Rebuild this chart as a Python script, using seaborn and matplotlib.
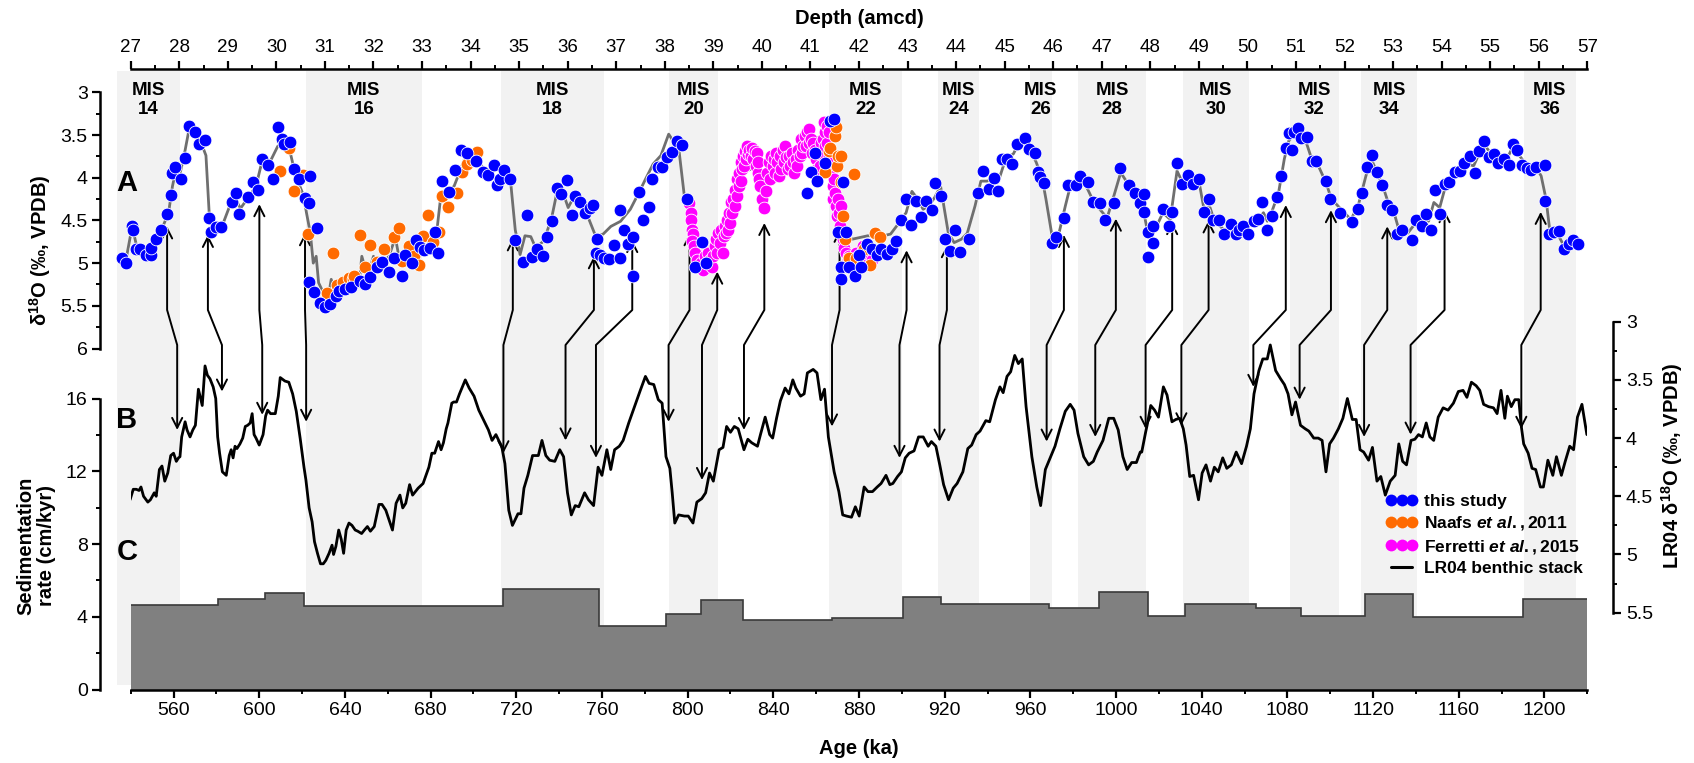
import numpy as np
import pandas as pd
import matplotlib
matplotlib.use("Agg")
import matplotlib.pyplot as plt
import seaborn as sns
from matplotlib.ticker import MultipleLocator, FixedLocator, FuncFormatter
from matplotlib.patches import FancyArrowPatch
from matplotlib.path import Path
from matplotlib.lines import Line2D

# ---------------- data ----------------
# (A) benthic d18O of this study, plotted against depth (amcd)
blue_depth = [26.82, 26.90, 27.03, 27.04, 27.10, 27.20, 27.31, 27.42, 27.42, 27.53, 27.62, 27.74, 27.84, 27.86, 27.92,
              28.04, 28.11, 28.21, 28.33, 28.41, 28.53, 28.62, 28.66, 28.75, 28.87, 29.08, 29.16, 29.24, 29.42, 29.51,
              29.62, 29.71, 29.83, 29.93, 30.04, 30.11, 30.15, 30.28, 30.37, 30.46, 30.60, 30.68, 30.70, 30.83, 30.68,
              30.78, 30.90, 31.01, 31.11, 31.22, 31.30, 31.41, 31.53, 31.72, 31.83, 31.92, 32.08, 32.18, 32.32, 32.42,
              32.58, 32.65, 32.79, 32.87, 32.95, 33.05, 33.16, 33.26, 33.32, 33.42, 33.55, 33.67, 33.81, 33.92, 34.11,
              34.25, 34.36, 34.48, 34.55, 34.60, 34.68, 34.81, 34.92, 35.07, 35.17, 35.27, 35.37, 35.49, 35.57, 35.68,
              35.79, 35.87, 35.98, 36.08, 36.16, 36.26, 36.35, 36.45, 36.52, 36.58, 36.61,
              36.66, 36.75, 36.85, 36.95, 37.07, 37.07, 37.15, 37.25, 37.35, 37.35, 37.46, 37.56, 37.67, 37.74, 37.86,
              37.94, 38.05, 38.15, 38.26, 38.35, 38.45, 38.63, 38.76, 38.85, 40.92, 41.02, 41.10, 41.13, 41.29, 41.40,
              41.48, 41.56, 41.63, 41.63, 41.67, 41.74, 41.80, 41.92, 42.01, 42.05, 42.17, 42.27, 42.37, 42.46, 42.57,
              42.68, 42.76, 42.87, 42.96, 43.08, 43.17, 43.28, 43.38, 43.50, 43.57, 43.69, 43.77, 43.87, 43.97, 44.07,
              44.27, 44.45, 44.56, 44.67, 44.78, 44.86, 44.94, 45.04, 45.16, 45.26, 45.42, 45.51, 45.63, 45.69, 45.73,
              45.81, 45.97, 46.06, 46.22, 46.30, 46.46, 46.56, 46.72, 46.82, 46.96, 47.06, 47.26, 47.37, 47.56, 47.68,
              47.78, 47.87, 47.87, 47.96, 47.96, 48.06, 48.06, 48.26, 48.38, 48.45, 48.55, 48.65, 48.77, 48.88, 49.00,
              49.10, 49.21, 49.30, 49.41, 49.51, 49.66, 49.77, 49.82, 49.91, 50.02, 50.13, 50.21, 50.31, 50.41, 50.50,
              50.61, 50.70, 50.80, 50.85, 50.91, 50.95, 51.05, 51.11, 51.23, 51.32, 51.42, 51.62, 51.71, 51.91, 52.16,
              52.27, 52.36, 52.46, 52.57, 52.67, 52.77, 52.88, 52.98, 53.08, 53.18, 53.38, 53.48, 53.59, 53.67, 53.78,
              53.87, 53.96, 54.06, 54.16, 54.27, 54.37, 54.47, 54.59, 54.68, 54.77, 54.88, 54.98, 55.08, 55.16, 55.29,
              55.38, 55.47, 55.56, 55.66, 55.76, 55.85, 55.95, 56.13, 56.13, 56.21, 56.32, 56.42, 56.52, 56.62, 56.71,
              56.80]
blue_d18o = [4.94, 5.00, 4.56, 4.61, 4.83, 4.84, 4.90, 4.90, 4.82, 4.72, 4.61, 4.43, 4.20, 3.94, 3.87,
             4.01, 3.77, 3.40, 3.46, 3.61, 3.56, 4.47, 4.64, 4.58, 4.58, 4.28, 4.18, 4.43, 4.23, 4.05,
             4.14, 3.78, 3.85, 4.01, 3.41, 3.55, 3.61, 3.58, 3.90, 4.01, 4.24, 4.30, 3.98, 4.59, 5.22,
             5.34, 5.47, 5.51, 5.48, 5.39, 5.33, 5.30, 5.28, 5.21, 5.25, 5.16, 5.04, 4.99, 5.10, 4.94,
             5.15, 4.91, 5.00, 4.73, 4.81, 4.85, 4.82, 4.64, 4.88, 4.04, 4.17, 3.91, 3.67, 3.71, 3.80,
             3.93, 3.97, 3.85, 4.08, 4.01, 3.91, 4.01, 4.73, 4.99, 4.44, 4.93, 4.83, 4.92, 4.70, 4.51,
             4.12, 4.19, 4.03, 4.44, 4.21, 4.28, 4.41, 4.36, 4.32, 4.88, 4.72,
             4.91, 4.94, 4.95, 4.79, 4.38, 4.94, 4.61, 4.78, 4.70, 5.15, 4.17, 4.49, 4.34, 4.01, 3.87,
             3.87, 3.76, 3.70, 3.57, 3.62, 4.25, 5.04, 4.75, 5.00, 4.18, 3.93, 3.71, 4.04, 3.83, 3.34,
             3.31, 4.63, 5.05, 5.19, 4.05, 4.63, 5.05, 5.15, 4.90, 5.04, 4.78, 4.84, 4.90, 4.83, 4.89,
             4.83, 4.74, 4.50, 4.25, 4.55, 4.27, 4.46, 4.27, 4.38, 4.06, 4.21, 4.72, 4.86, 4.61, 4.87,
             4.72, 4.18, 3.92, 4.13, 4.00, 4.16, 3.78, 3.78, 3.84, 3.61, 3.53, 3.66, 3.71, 3.93, 3.99,
             4.06, 4.77, 4.70, 4.47, 4.08, 4.08, 3.98, 4.05, 4.28, 4.30, 4.50, 4.30, 3.89, 4.08, 4.18,
             4.30, 4.19, 4.40, 4.64, 4.93, 4.57, 4.77, 4.37, 4.56, 4.40, 3.83, 4.07, 3.97, 4.07, 4.02,
             4.40, 4.25, 4.50, 4.50, 4.66, 4.54, 4.66, 4.61, 4.56, 4.66, 4.51, 4.48, 4.29, 4.61, 4.45,
             4.23, 3.98, 3.65, 3.48, 3.67, 3.46, 3.42, 3.54, 3.52, 3.81, 3.81, 4.04, 4.25, 4.41, 4.52,
             4.37, 4.18, 3.88, 3.73, 3.93, 4.08, 4.32, 4.38, 4.66, 4.61, 4.73, 4.50, 4.56, 4.42, 4.61,
             4.14, 4.42, 4.07, 4.05, 3.93, 3.92, 3.83, 3.74, 3.94, 3.69, 3.57, 3.76, 3.72, 3.83, 3.78,
             3.85, 3.61, 3.67, 3.85, 3.89, 3.91, 3.88, 3.85, 4.27, 4.66, 4.64, 4.62, 4.83, 4.78, 4.73,
             4.78]

# Naafs et al., 2011
naafs_depth = [30.07, 30.26, 30.37, 30.54, 30.66, 31.04, 31.17, 31.25, 31.37, 31.49, 31.57, 31.60, 31.72, 31.83, 31.92,
               32.08, 32.22, 32.42, 32.53, 32.59, 32.73, 32.83, 32.93, 33.03, 33.13, 33.22, 33.34, 33.42, 33.54, 33.73,
               33.82, 33.93, 34.02, 34.13,
               41.31, 41.39, 41.41, 41.51, 41.53, 41.55, 41.56, 41.63, 41.63, 41.90, 41.67, 41.71, 41.79, 41.94, 42.10,
               42.22, 42.32, 42.43]
naafs_d18o = [3.92, 3.65, 4.16, 3.97, 4.66, 5.35, 4.88, 5.26, 5.22, 5.17, 5.19, 5.15, 4.67, 5.04, 4.79,
              4.99, 4.83, 4.69, 4.59, 4.98, 4.80, 4.92, 5.02, 4.68, 4.44, 4.75, 4.63, 4.21, 4.34, 4.18,
              3.93, 3.84, 3.79, 3.70,
              3.93, 3.69, 3.65, 3.51, 3.41, 3.86, 3.74, 3.75, 4.05, 3.96, 4.45, 4.72, 4.94, 4.94, 4.84,
              5.02, 4.65, 4.69]

# Ferretti et al., 2015
ferr_depth = [38.49, 38.53, 38.55, 38.56, 38.59, 38.57, 38.61, 38.62, 38.66, 38.70, 38.74, 38.78, 38.82, 38.86, 38.90,
              38.94, 38.98, 39.00, 39.03, 39.05, 39.08, 39.09, 39.13, 39.16, 39.19, 39.21, 39.23, 39.27, 39.29, 39.31,
              39.33, 39.35, 39.37, 39.39, 39.41, 39.44, 39.45, 39.48, 39.49, 39.52, 39.53, 39.56, 39.57, 39.60, 39.61,
              39.64, 39.65, 39.68, 39.69, 39.72, 39.74, 39.77, 39.79, 39.82, 39.85, 39.87, 39.89, 39.91, 39.93, 39.95,
              39.97, 40.01, 40.05, 40.09, 40.11, 40.14, 40.17, 40.19, 40.22, 40.24, 40.27, 40.30, 40.32, 40.35, 40.38,
              40.40, 40.43, 40.46, 40.48, 40.50, 40.54, 40.56, 40.58, 40.62, 40.64, 40.66, 40.70, 40.72, 40.74, 40.78,
              40.80, 40.82, 40.85, 40.88, 40.90, 40.93, 40.96, 40.98, 41.01, 41.03, 41.06, 41.09, 41.11, 41.14, 41.15,
              41.19, 41.22, 41.25, 41.27, 41.30, 41.31, 41.34, 41.35, 41.38, 41.39, 41.42, 41.43, 41.46, 41.47, 41.49,
              41.51, 41.53, 41.55, 41.57, 41.59, 41.61, 41.63, 41.67, 41.70, 41.74, 41.77, 41.80, 41.86, 41.94, 42.02,
              42.08, 42.14, 42.22, 42.26]
ferr_d18o = [4.30, 4.41, 4.49, 4.61, 4.66, 4.74, 4.80, 4.88, 4.96, 5.04, 5.00, 5.08, 4.92, 5.00, 4.88,
             4.96, 5.04, 4.92, 4.80, 4.72, 4.88, 4.65, 4.76, 4.61, 4.88, 4.68, 4.57, 4.65, 4.49, 4.61,
             4.41, 4.53, 4.29, 4.41, 4.25, 4.33, 4.14, 4.21, 4.02, 4.10, 3.94, 4.04, 3.82, 3.90, 3.74,
             3.86, 3.69, 3.78, 3.63, 3.72, 3.67, 3.74, 3.65, 3.78, 3.69, 3.86, 3.71, 3.94, 3.82, 4.02,
             4.10, 4.25, 4.35, 4.16, 3.94, 3.82, 4.02, 3.74, 3.86, 3.78, 3.94, 3.71, 3.82, 3.98, 3.74,
             3.90, 3.67, 3.82, 3.63, 3.76, 3.90, 3.74, 3.86, 3.71, 3.82, 3.94, 3.78, 3.86, 3.67, 3.74,
             3.55, 3.71, 3.63, 3.51, 3.63, 3.47, 3.59, 3.43, 3.55, 3.71, 3.59, 3.67, 3.78, 3.90, 3.71,
             3.86, 3.59, 3.55, 3.35, 3.47, 3.63, 3.39, 3.59, 3.74, 3.47, 3.78, 3.94, 4.10, 4.25, 4.02,
             4.18, 4.33, 4.45, 4.25, 4.41, 4.57, 4.33, 4.72, 4.82, 4.88, 4.96, 4.92, 5.00, 4.88, 4.94,
             4.80, 4.88, 4.82, 4.96]

# grey curve through the combined d18O record
grey_depth = [26.91, 27.03, 27.13, 27.39, 27.62, 27.78, 27.86, 27.92, 28.02, 28.10, 28.21, 28.33, 28.45, 28.55, 28.62,
              28.69, 28.88, 29.04, 29.16, 29.26, 29.40, 29.58, 29.70, 29.83, 30.03, 30.19, 30.30, 30.40, 30.56, 30.62,
              30.70, 30.76, 30.82, 30.87, 30.97, 31.06, 31.13, 31.19, 31.41, 31.57, 31.72, 31.76, 31.82, 31.92, 32.00,
              32.12, 32.32, 32.45, 32.53, 32.63, 32.71, 32.91, 33.06, 33.18, 33.30, 33.38, 33.52, 33.66, 33.77, 33.89,
              34.05, 34.25, 34.44, 34.56, 34.71, 34.82, 34.92, 35.02, 35.12, 35.24, 35.34, 35.51, 35.67, 35.79, 35.90,
              36.01, 36.14, 36.30, 36.44, 36.58, 36.73, 36.89, 37.09, 37.29, 37.48, 37.60, 37.76, 37.92, 38.08, 38.15,
              38.27, 38.41, 38.47, 38.79, 39.18, 39.58, 39.97, 40.52, 41.00, 41.31, 41.51, 41.60, 41.86, 42.18, 42.50,
              42.65, 42.77, 42.97, 43.09, 43.21, 43.32, 43.44, 43.56, 43.68, 43.84, 43.96, 44.11, 44.23, 44.39, 44.51,
              44.63, 44.78, 44.86, 45.02, 45.18, 45.30, 45.42, 45.56, 45.65, 45.77, 45.85, 45.97, 46.09, 46.25, 46.36,
              46.52, 46.68, 46.84, 46.99, 47.11, 47.23, 47.39, 47.55, 47.70, 47.86, 47.95, 48.06, 48.26, 48.41, 48.55,
              48.65, 48.88, 49.02, 49.10, 49.23, 49.31, 49.51, 49.66, 49.82, 50.02, 50.17, 50.33, 50.41, 50.52, 50.64,
              50.76, 50.85, 50.97, 51.07, 51.19, 51.30, 51.46, 51.62, 51.73, 51.93, 52.13, 52.28, 52.44, 52.55, 52.67,
              52.79, 52.91, 53.02, 53.14, 53.30, 53.41, 53.57, 53.73, 53.84, 53.96, 54.06, 54.20, 54.35, 54.51, 54.66,
              54.78, 54.90, 55.02, 55.17, 55.33, 55.47, 55.60, 55.76, 55.95, 56.05, 56.15, 56.23, 56.38, 56.54, 56.70]
grey_d18o = [4.94, 4.57, 4.82, 4.89, 4.63, 4.41, 4.10, 3.94, 3.94, 3.74, 3.41, 3.49, 3.59, 3.74, 4.45,
             4.61, 4.57, 4.33, 4.25, 4.36, 4.25, 4.10, 3.82, 3.86, 3.63, 3.59, 3.74, 3.98, 4.21, 4.41,
             4.65, 5.00, 4.92, 5.23, 5.35, 5.43, 5.19, 5.31, 5.27, 5.21, 5.15, 4.92, 5.04, 5.08, 4.92,
             5.04, 4.92, 4.70, 4.94, 5.00, 4.88, 4.88, 4.78, 4.82, 4.65, 4.25, 4.16, 4.10, 3.94, 3.76,
             3.74, 3.88, 3.94, 3.86, 3.92, 4.02, 4.61, 4.90, 4.68, 4.69, 4.82, 4.74, 4.47, 4.14, 4.17,
             4.35, 4.21, 4.31, 4.49, 4.69, 4.66, 4.57, 4.51, 4.37, 4.16, 4.02, 3.84, 3.74, 3.49, 3.55,
             3.57, 4.25, 4.32, 5.00, 4.80, 3.94, 3.86, 3.78, 3.59, 3.47, 3.94, 4.61, 4.72, 4.68, 4.68,
             4.66, 4.57, 4.41, 4.16, 4.25, 4.37, 4.33, 4.23, 4.10, 4.65, 4.76, 4.72, 4.65, 4.33, 4.04,
             4.04, 4.02, 4.06, 3.78, 3.72, 3.59, 3.53, 3.71, 3.82, 4.00, 4.25, 4.66, 4.72, 4.33, 4.08,
             4.04, 4.10, 4.29, 4.39, 4.47, 4.25, 3.94, 4.08, 4.21, 4.39, 4.65, 4.65, 4.41, 4.49, 3.92,
             4.04, 4.04, 4.10, 4.35, 4.35, 4.49, 4.61, 4.59, 4.61, 4.57, 4.53, 4.41, 4.51, 4.37, 4.18,
             3.78, 3.57, 3.49, 3.45, 3.55, 3.74, 3.86, 4.06, 4.25, 4.37, 4.49, 4.33, 3.98, 3.78, 3.94,
             4.10, 4.31, 4.41, 4.65, 4.65, 4.57, 4.49, 4.51, 4.29, 4.35, 4.14, 4.04, 3.94, 3.84, 3.86,
             3.71, 3.63, 3.72, 3.78, 3.80, 3.63, 3.74, 3.86, 3.88, 3.98, 4.25, 4.63, 4.65, 4.82, 4.76]

# (B) LR04 benthic stack (age ka, d18O)
lr04_age = [539.7, 541.2, 542.6, 543.9, 544.8, 546.0, 548.0, 549.2, 551.0, 551.9, 553.4, 554.6, 555.9, 557.3, 558.7,
            560.0, 561.3, 562.3, 563.0, 563.8, 565.4, 566.3, 567.7, 569.0, 570.2, 571.6, 573.4, 574.7, 575.8, 577.0,
            578.5, 579.7, 580.6, 581.5, 582.8, 584.6, 586.0, 586.9, 587.8, 588.7, 589.6, 591.0, 592.3, 593.5, 594.6,
            595.8, 596.7, 597.6, 598.5, 600.0, 601.8, 603.0, 603.9, 605.3, 607.5, 608.9, 609.8, 612.0, 613.8, 615.6,
            617.3, 619.1, 620.9, 621.8, 623.3, 624.7, 625.8, 627.2, 628.6, 629.9, 631.1, 632.6, 634.0, 634.7, 635.8,
            637.1, 638.3, 639.4, 640.6, 641.9, 643.3, 644.8, 646.0, 647.8, 649.1, 650.5, 651.9, 653.7, 655.9, 657.3,
            659.1, 660.9, 662.2, 663.9, 665.7, 667.0, 668.4, 670.2, 671.6, 674.2, 676.5, 679.2, 680.6, 681.9, 683.7,
            684.9, 686.0, 687.3, 688.1, 689.9, 690.8, 692.1, 693.5, 696.2, 698.0, 700.3, 702.5, 704.6, 707.0, 708.7,
            710.5, 711.8, 713.2, 714.7, 716.5, 718.2, 719.5, 720.8, 722.2, 723.6, 725.4, 727.6, 729.0, 730.3, 732.0,
            733.8, 735.6, 738.0, 740.3, 742.1, 743.9, 745.7, 747.5, 749.2, 751.9, 753.7, 756.1, 758.2, 760.0, 762.3,
            764.1, 765.9, 768.1, 769.9, 772.5, 775.2, 777.9, 780.3, 782.0, 784.2, 786.3, 788.1, 789.9, 791.7, 792.8,
            794.0, 795.8, 798.5, 800.3, 802.5, 804.3, 806.6, 808.4, 810.2, 812.0, 814.7, 816.5, 818.2, 820.0, 821.8,
            823.6, 826.3, 828.1, 829.9, 832.6, 834.0, 836.2, 838.3, 839.7, 841.5, 843.3, 845.5, 847.3, 849.1, 850.5,
            852.7, 854.4, 855.9, 858.6, 860.4, 862.2, 863.9, 865.7, 868.4, 870.6, 872.4, 874.2, 876.5, 878.3, 880.1,
            882.4, 884.2, 886.3, 888.5, 890.3, 892.6, 894.4, 895.8, 898.0, 899.8, 901.6, 903.4, 905.7, 907.8, 910.0,
            912.3, 913.8, 915.9, 917.7, 919.5, 921.8, 924.0, 925.8, 928.5, 930.8, 932.6, 934.7, 936.5, 939.2, 941.0,
            943.7, 945.8, 947.3, 949.1, 950.8, 952.7, 954.4, 956.2, 958.0, 960.7, 963.0, 964.8, 967.0, 968.8, 971.5,
            973.8, 976.3, 978.6, 980.4, 982.2, 984.9, 987.2, 989.4, 991.2, 993.9, 996.6, 998.9, 1001.0, 1003.2, 1005.2,
            1007.3, 1009.5, 1011.3, 1012.0, 1013.8, 1014.5, 1016.2, 1018.0, 1019.8, 1022.1, 1023.8, 1026.1, 1027.9,
            1029.7, 1031.4, 1032.7, 1034.4, 1036.2, 1038.5, 1040.2, 1042.0, 1044.1, 1045.9, 1047.7, 1049.8, 1051.7,
            1053.8, 1056.1, 1058.6, 1060.9, 1062.7, 1064.4, 1066.7, 1068.5, 1070.6, 1072.0, 1074.5, 1076.8, 1078.6,
            1080.3, 1082.1, 1083.8, 1086.1, 1088.3, 1090.0, 1092.3, 1094.4, 1096.2, 1098.0, 1099.7, 1101.5, 1103.8,
            1105.9, 1108.0, 1110.3, 1112.1, 1113.9, 1115.6, 1117.9, 1119.7, 1121.8, 1123.6, 1125.7, 1128.0, 1130.3,
            1132.0, 1133.8, 1135.6, 1137.7, 1139.5, 1141.2, 1143.0, 1144.8, 1146.5, 1148.3, 1150.4, 1152.7, 1155.0,
            1157.5, 1159.8, 1162.0, 1163.8, 1165.9, 1168.1, 1169.8, 1171.6, 1173.9, 1176.2, 1177.9, 1179.7, 1181.5,
            1182.7, 1184.5, 1186.2, 1188.0, 1189.2, 1190.3, 1192.4, 1194.2, 1195.9, 1198.1, 1199.5, 1201.6, 1203.9,
            1205.6, 1207.9, 1209.7, 1211.8, 1213.6, 1215.4, 1217.5, 1219.8]
lr04_d18o = [4.53, 4.44, 4.44, 4.45, 4.42, 4.50, 4.55, 4.53, 4.47, 4.50, 4.27, 4.24, 4.37, 4.30, 4.15,
             4.13, 4.20, 4.17, 4.16, 3.99, 3.86, 3.93, 3.99, 3.93, 3.89, 3.58, 3.72, 3.38, 3.46, 3.49,
             3.56, 3.66, 3.99, 4.13, 4.29, 4.32, 4.15, 4.10, 4.17, 4.07, 4.09, 4.05, 4.00, 3.90, 3.89,
             3.87, 3.79, 3.97, 4.00, 4.06, 3.97, 3.81, 3.76, 3.79, 3.79, 3.64, 3.48, 3.51, 3.52, 3.62,
             3.77, 4.00, 4.25, 4.36, 4.60, 4.72, 4.89, 4.99, 5.08, 5.08, 5.05, 4.99, 4.92, 5.00, 4.93,
             4.79, 4.87, 4.99, 4.79, 4.73, 4.75, 4.79, 4.80, 4.82, 4.79, 4.76, 4.80, 4.76, 4.57, 4.57,
             4.62, 4.72, 4.79, 4.56, 4.49, 4.60, 4.56, 4.40, 4.49, 4.43, 4.39, 4.25, 4.13, 4.13, 4.03,
             4.10, 4.04, 3.92, 3.87, 3.70, 3.69, 3.69, 3.62, 3.50, 3.57, 3.64, 3.76, 3.84, 3.93, 4.02,
             3.97, 4.02, 4.07, 4.22, 4.62, 4.75, 4.70, 4.65, 4.65, 4.43, 4.32, 4.15, 4.15, 4.15, 4.02,
             4.15, 4.19, 4.20, 4.10, 4.16, 4.47, 4.66, 4.58, 4.59, 4.47, 4.53, 4.58, 4.25, 4.32, 4.10,
             4.27, 4.10, 4.07, 4.02, 3.87, 3.73, 3.59, 3.47, 3.53, 3.54, 3.67, 3.70, 4.16, 4.26, 4.47,
             4.73, 4.66, 4.67, 4.67, 4.73, 4.55, 4.52, 4.47, 4.30, 4.37, 4.10, 4.08, 3.90, 3.95, 3.90,
             3.92, 4.10, 4.01, 4.04, 4.07, 3.97, 3.82, 3.97, 4.00, 3.83, 3.68, 3.57, 3.62, 3.50, 3.57,
             3.64, 3.62, 3.44, 3.41, 3.44, 3.67, 3.58, 3.99, 4.29, 4.46, 4.66, 4.67, 4.68, 4.59, 4.67,
             4.42, 4.46, 4.46, 4.42, 4.39, 4.32, 4.40, 4.39, 4.33, 4.29, 4.17, 4.13, 4.11, 3.99, 3.99,
             4.07, 4.03, 4.07, 4.23, 4.40, 4.53, 4.43, 4.39, 4.29, 4.09, 4.06, 3.97, 3.94, 3.85, 3.86,
             3.67, 3.56, 3.61, 3.47, 3.43, 3.29, 3.36, 3.32, 3.73, 4.16, 4.42, 4.58, 4.27, 4.19, 4.07,
             3.92, 3.77, 3.71, 3.76, 3.96, 4.16, 4.23, 4.20, 4.12, 4.02, 3.83, 3.83, 3.93, 4.16, 4.27,
             4.21, 4.21, 4.12, 4.12, 3.95, 3.89, 3.72, 3.76, 3.82, 3.56, 3.63, 3.86, 3.84,
             3.83, 3.92, 4.06, 4.33, 4.32, 4.53, 4.30, 4.23, 4.37, 4.25, 4.29, 4.17, 4.26,
             4.23, 4.12, 4.22, 4.07, 3.92, 3.62, 3.42, 3.32, 3.32, 3.20, 3.42, 3.49, 3.54,
             3.62, 3.80, 3.69, 3.89, 3.92, 3.94, 4.00, 4.00, 4.02, 4.29, 4.05, 4.00, 3.92,
             3.83, 3.66, 3.84, 3.84, 4.10, 4.12, 4.19, 4.08, 4.37, 4.33, 4.49, 4.37, 4.32,
             4.05, 4.20, 4.23, 4.02, 4.01, 3.97, 3.99, 3.87, 3.99, 4.02, 3.82, 3.74, 3.76,
             3.70, 3.60, 3.59, 3.65, 3.52, 3.55, 3.59, 3.71, 3.73, 3.74, 3.79, 3.59, 3.83,
             3.64, 3.73, 3.67, 3.67, 3.90, 4.05, 4.13, 4.26, 4.27, 4.42, 4.42, 4.19, 4.32,
             4.16, 4.32, 4.20, 4.07, 4.10, 3.82, 3.71, 3.97]

# (C) sedimentation rate (cm/kyr), step intervals
sed_edges = [540.0, 580.6, 602.7, 621.0, 713.8, 758.6, 790.1, 806.1, 826.0, 867.2, 900.7,
             918.1, 968.8, 992.1, 1015.0, 1032.3, 1065.3, 1086.5, 1116.2, 1138.6, 1189.8, 1220.3]
sed_rate = [4.64, 4.96, 5.32, 4.59, 5.51, 3.49, 4.17, 4.92, 3.82, 3.95, 5.10,
            4.72, 4.46, 5.38, 4.04, 4.72, 4.46, 4.04, 5.23, 3.98, 4.96]

# glacial Marine Isotope Stages (age span, ka)
mis_label = ["14", "16", "18", "20", "22", "24", "26", "28", "30", "32", "34", "36"]
mis_start = [533.5, 621.8, 712.7, 791.1, 866.2, 917.1, 959.6, 982.3, 1031.1, 1081.3, 1114.2, 1190.3]
mis_end = [563.0, 675.9, 760.8, 814.4, 900.1, 935.8, 970.1, 1014.1, 1061.9, 1103.9, 1140.7, 1214.7]

# tie points: depth/d18O in record A  <->  age/d18O in LR04
tie_depth = [27.75, 28.59, 29.65, 30.59, 34.87, 36.54, 37.33, 38.51, 39.08, 40.05, 41.60,
             42.98, 43.81, 46.22, 47.29, 48.45, 49.20, 50.79, 51.72, 52.88, 54.06, 56.04]
tie_d18o = [4.57, 4.67, 4.31, 4.65, 4.71, 4.92, 4.73, 4.65, 5.10, 4.53, 4.61,
            4.85, 4.79, 4.67, 4.48, 4.52, 4.50, 4.32, 4.38, 4.57, 4.38, 4.40]
tie_age = [561.7, 582.6, 601.4, 621.9, 714.0, 743.0, 757.2, 791.1, 806.7, 826.3, 867.4,
           898.9, 917.6, 967.6, 990.3, 1013.8, 1030.5, 1064.1, 1085.7, 1115.8, 1137.5, 1189.2]
tie_lr04 = [3.93, 3.60, 3.80, 3.86, 4.13, 4.02, 4.17, 3.86, 4.36, 3.93, 3.90,
            4.17, 4.03, 4.03, 3.99, 3.92, 3.89, 3.56, 3.67, 3.99, 3.97, 3.92]

# ---------------- style ----------------
sns.set_theme(style="ticks")
plt.rcParams.update({
    "font.family": ["Liberation Sans", "DejaVu Sans"],
    "mathtext.fontset": "custom",
    "mathtext.rm": "Liberation Sans:bold",
    "mathtext.bf": "Liberation Sans:bold",
    "mathtext.it": "Liberation Sans:italic:bold",
    "text.color": "black",
    "axes.labelcolor": "black",
    "axes.linewidth": 1.8,
    "xtick.major.width": 1.6, "ytick.major.width": 1.6,
    "xtick.minor.width": 1.4, "ytick.minor.width": 1.4,
    "xtick.major.size": 5.5, "ytick.major.size": 5.5,
    "xtick.minor.size": 3.2, "ytick.minor.size": 3.2,
    "xtick.color": "black", "ytick.color": "black",
    "xtick.labelcolor": "black", "ytick.labelcolor": "black",
    "axes.edgecolor": "black",
    "xtick.direction": "out", "ytick.direction": "out",
})

BLUE, ORANGE, MAGENTA = "#0000ff", "#ff6a00", "#ff00ff"
SHADE = "#f2f2f2"
TICK_FS = 14

W, H = 1694, 763
fig = plt.figure(figsize=(W / 100, H / 100), dpi=100)
left_px, right_px, top_px, bot_px = 130.7, 1587.3, 69.0, 689.5
pos = [left_px / W, 1 - bot_px / H, (right_px - left_px) / W, (bot_px - top_px) / H]

axS = fig.add_axes(pos)                 # age axis + sedimentation rate
axL = axS.twinx()                       # LR04
axA = fig.add_axes(pos)                 # depth axis + d18O record
axA.patch.set_visible(False)

# limits (pixel-calibrated)
axS.set_xlim(540, 1220)
axS.set_ylim(0, 34.15)
axL.set_ylim(6.16, 0.829)
axA.set_xlim(27, 57)
axA.set_ylim(9.993, 2.727)

# ---- shading & MIS labels
for lab, s, e in zip(mis_label, mis_start, mis_end):
    axS.axvspan(s, e, ymin=0.007, ymax=0.997, color=SHADE, lw=0, zorder=0, clip_on=False)
    axS.text((s + e) / 2, 0.950, f"MIS\n{lab}", transform=axS.get_xaxis_transform(),
             ha="center", va="center", fontsize=13.5, fontweight="bold", linespacing=1.12, zorder=5)

# ---- sedimentation rate (C)
axS.stairs(sed_rate, sed_edges, baseline=0, fill=True, color="#808080", zorder=1)
axS.stairs(sed_rate, sed_edges, baseline=None, color="#3a3a3a", lw=1.2, zorder=1.5)

# ---- LR04 (B)
sns.lineplot(x=lr04_age, y=lr04_d18o, ax=axL, sort=False, estimator=None, color="black",
             lw=2.0, legend=False, zorder=3)

# ---- d18O record (A)
sns.lineplot(x=grey_depth, y=grey_d18o, ax=axA, sort=False, estimator=None, color="#6f6f6f",
             lw=2.0, legend=False, zorder=2, clip_on=False)
mk = dict(s=84, edgecolor="white", linewidth=0.6, clip_on=False, legend=False)
sns.scatterplot(x=ferr_depth, y=ferr_d18o, ax=axA, color=MAGENTA, zorder=3, **mk)
sns.scatterplot(x=naafs_depth, y=naafs_d18o, ax=axA, color=ORANGE, zorder=4, **mk)
sns.scatterplot(x=blue_depth, y=blue_d18o, ax=axA, color=BLUE, zorder=5, **mk)

# ---- axes / spines
fmt = FuncFormatter(lambda v, p: f"{v:g}")
for sp in ["top", "right"]:
    axS.spines[sp].set_visible(False)
axS.spines["left"].set_position(("outward", 22))
axS.spines["left"].set_bounds(0, 16)
axS.xaxis.set_major_locator(MultipleLocator(40))
axS.xaxis.set_minor_locator(MultipleLocator(20))
axS.yaxis.set_major_locator(FixedLocator([0, 4, 8, 12, 16]))
axS.yaxis.set_minor_locator(FixedLocator([2, 6, 10, 14]))
axS.yaxis.set_major_formatter(fmt)
axS.tick_params(axis="both", which="both", labelsize=TICK_FS, top=False, right=False)
axS.set_xlabel("")
axS.set_ylabel("")

for sp in ["top", "left", "bottom"]:
    axL.spines[sp].set_visible(False)
axL.spines["right"].set_position(("outward", 18.7))
axL.spines["right"].set_bounds(3, 5.5)
axL.yaxis.set_major_locator(FixedLocator(np.arange(3, 5.51, 0.5)))
axL.yaxis.set_minor_locator(FixedLocator(np.arange(3.25, 5.3, 0.5)))
axL.yaxis.set_major_formatter(fmt)
axL.tick_params(axis="y", which="both", labelsize=TICK_FS)
axL.set_ylabel("")
axL.set_xlabel("")

for sp in ["bottom", "right"]:
    axA.spines[sp].set_visible(False)
axA.spines["left"].set_position(("outward", 22))
axA.spines["left"].set_bounds(3, 6)
axA.xaxis.tick_top()
axA.xaxis.set_major_locator(MultipleLocator(1))
axA.xaxis.set_minor_locator(MultipleLocator(0.5))
axA.yaxis.set_major_locator(FixedLocator(np.arange(3, 6.01, 0.5)))
axA.yaxis.set_minor_locator(FixedLocator(np.arange(3.25, 5.8, 0.5)))
axA.yaxis.set_major_formatter(fmt)
axA.xaxis.set_major_formatter(fmt)
axA.tick_params(axis="both", which="both", labelsize=TICK_FS)
axA.tick_params(axis="x", which="both", top=True, bottom=False, labeltop=True, labelbottom=False,
                labelsize=13.5)
axA.set_xlabel("")
axA.set_ylabel("")

# ---- tie-point arrows (A record -> LR04)
inv = fig.transFigure.inverted()
yk1 = axS.transAxes.transform((0, 0.6116))[1]
yk2 = axS.transAxes.transform((0, 0.5552))[1]
for d, a, t, b in zip(tie_depth, tie_d18o, tie_age, tie_lr04):
    p0 = axA.transData.transform((d, a))
    p3 = axL.transData.transform((t, b))
    verts = inv.transform([p0, (p0[0], yk1), (p3[0], yk2), p3])
    arr = FancyArrowPatch(path=Path(verts), arrowstyle="<->,head_length=0.55,head_width=0.28",
                          mutation_scale=13, lw=1.4, color="black", transform=fig.transFigure,
                          clip_on=False, zorder=2)
    axS.add_artist(arr)

# ---- panel letters
for letter, yy in [("A", 0.816), ("B", 0.434), ("C", 0.222)]:
    axS.text(-0.0025, yy, letter, transform=axS.transAxes, ha="center", va="center",
             fontsize=21, fontweight="bold", color="black", zorder=6)

# ---- axis titles
fig.text(859 / W, 1 - 18 / H, "Depth (amcd)", ha="center", va="center", fontsize=14.5, fontweight="bold")
fig.text(859 / W, 1 - 748 / H, "Age (ka)", ha="center", va="center", fontsize=14.5, fontweight="bold")
fig.text(40 / W, 1 - 250 / H, "δ$^{\\mathbf{18}}$O (‰, VPDB)", rotation=90, ha="center", va="center",
         fontsize=14.5, fontweight="bold")
fig.text(36.5 / W, 1 - 546 / H, "Sedimentation\nrate (cm/kyr)", rotation=90, ha="center", va="center",
         fontsize=14.5, fontweight="bold", linespacing=1.1)
fig.text(1671.7 / W, 1 - 466 / H, "LR04 δ$^{\\mathbf{18}}$O (‰, VPDB)", rotation=90, ha="center",
         va="center", fontsize=14.5, fontweight="bold")

# ---- legend
handles = [
    Line2D([], [], ls="none", marker="o", ms=8.5, mfc=BLUE, mec=BLUE, mew=0),
    Line2D([], [], ls="none", marker="o", ms=8.5, mfc=ORANGE, mec=ORANGE, mew=0),
    Line2D([], [], ls="none", marker="o", ms=8.5, mfc=MAGENTA, mec=MAGENTA, mew=0),
    Line2D([], [], color="black", lw=2.2),
]
labels = ["this study", r"Naafs $\it{et\ al.,}$2011", r"Ferretti $\it{et\ al.,}$2015",
          "LR04 benthic stack"]
fig.legend(handles, labels, loc="upper left", bbox_to_anchor=(1386 / W, 1 - 494 / H), frameon=False,
           numpoints=3, prop={"weight": "bold", "size": 12.5}, handlelength=1.8, handletextpad=0.4,
           labelspacing=0.3, borderpad=0, borderaxespad=0)

fig.savefig("out.png", dpi=100)
